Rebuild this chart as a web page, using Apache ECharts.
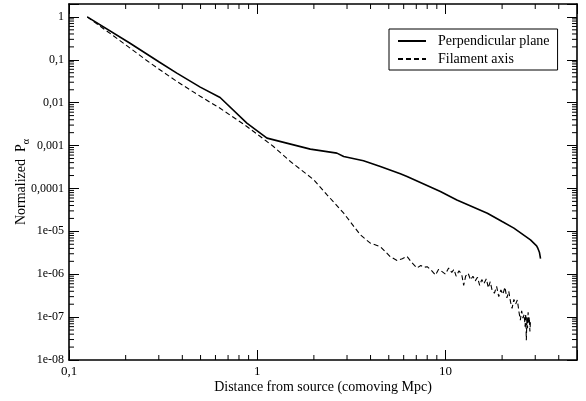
<!DOCTYPE html>
<html>
<head>
<meta charset="utf-8">
<script src="https://cdn.jsdelivr.net/npm/echarts@6/dist/echarts.min.js"></script>
<style>
  html, body { margin: 0; padding: 0; background: #fff; }
  #chart { width: 586px; height: 401px; }
</style>
</head>
<body>
<div id="chart"></div>
<script>
// Axis ranges (log scales)
const X_MIN = 0.1, X_MAX = 50;
const Y_MIN = 1e-8, Y_MAX = 2;

// Labels
const xAxisTitle = 'Distance from source (comoving Mpc)';
const yAxisTitle = 'Normalized  P{sub|α}';
const seriesNames = ['Perpendicular plane', 'Filament axis'];

// Minor tick multipliers within each decade
const minorMultipliers = [2, 3, 4, 5, 6, 7, 8, 9];
const xDecades = [0.1, 1, 10];
const yDecades = [1e-8, 1e-7, 1e-6, 1e-5, 1e-4, 1e-3, 1e-2, 1e-1];

// Perpendicular plane
const perpX = [0.125, 0.21, 0.30, 0.374, 0.498, 0.635, 0.881, 1.0, 1.127, 1.914, 2.65, 2.88,
  3.67, 4.51, 5.76, 6.25, 9.4, 11.5, 16.7, 20, 23.1, 28.3, 30.5, 31.0, 31.3, 31.6, 31.8, 32.0];
const perpY = [1, 0.246, 0.090, 0.049, 0.0231, 0.0132, 0.00334, 0.00221, 0.00149, 8.26e-4, 6.67e-4, 5.55e-4,
  4.41e-4, 3.24e-4, 2.19e-4, 1.9e-4, 8.5e-5, 5.4e-5, 2.65e-5, 1.69e-5, 1.19e-5, 6.3e-6, 4.6e-6, 4.0e-6, 3.7e-6, 3.2e-6, 2.7e-6, 2.3e-6];

// Filament axis
const filX = [0.125, 0.172, 0.27, 0.374, 0.498, 0.635, 0.881, 1.127, 1.22, 1.50, 2.0, 2.35, 2.88,
  3.53, 3.99, 4.51, 5.09, 5.53, 5.9, 6.25, 6.6, 7.06, 7.4, 7.7, 8.0, 8.4, 8.85, 9.2, 9.6, 10.0,
  10.4, 10.8, 11.1, 11.4, 11.8, 12.2, 12.5, 12.8, 13.2, 13.6, 14.0, 14.4, 14.8, 15.2, 15.6, 16.0,
  16.5, 16.9, 17.3, 17.7, 18.2, 18.7, 19.2, 19.7, 20.2, 20.7, 21.2, 21.7, 22.2, 22.6, 23.1, 23.6,
  24.1, 24.6, 25.0, 25.4, 25.8, 26.2, 26.5, 26.7, 26.9, 27.1, 27.3, 27.5, 27.7, 27.9, 28.1, 28.3];
const filY = [1, 0.364, 0.084, 0.0313, 0.0141, 0.0074, 0.00279, 0.00124, 9.5e-4, 4.25e-4, 1.59e-4, 7.1e-5, 2.65e-5,
  8.3e-6, 5.3e-6, 4.4e-6, 2.57e-6, 2.1e-6, 2.3e-6, 2.6e-6, 1.9e-6, 1.4e-6, 1.6e-6, 1.45e-6, 1.5e-6, 1.25e-6, 9.6e-7, 1.3e-6, 1.15e-6, 1.0e-6,
  1.4e-6, 1.1e-6, 1.3e-6, 9e-7, 1.2e-6, 1.0e-6, 5.5e-7, 9e-7, 1.05e-6, 7.4e-7, 9e-7, 7e-7, 8.5e-7, 5.5e-7, 7.5e-7, 6e-7,
  7.8e-7, 4.8e-7, 6.7e-7, 4.2e-7, 3.6e-7, 5.2e-7, 3.0e-7, 4.3e-7, 3.4e-7, 5.0e-7, 2.8e-7, 4.0e-7, 2.2e-7, 1.6e-7, 2.6e-7, 2.0e-7,
  2.5e-7, 1.3e-7, 8.5e-8, 1.4e-7, 9.5e-8, 1.15e-7, 6e-8, 1.2e-7, 2.9e-8, 1.0e-7, 5.5e-8, 1.3e-7, 7e-8, 1.0e-7, 4.6e-8, 8e-8];

const zip = (xs, ys) => xs.map((x, i) => [x, ys[i]]);

const xMinorTicks = [];
xDecades.forEach(d => minorMultipliers.forEach(m => { if (d * m < X_MAX) xMinorTicks.push([d * m, Y_MIN]); }));
const yMinorTicks = [];
yDecades.forEach(d => minorMultipliers.forEach(m => { if (d * m < Y_MAX) yMinorTicks.push([X_MIN, d * m]); }));

// Decade labels: "0,1" style for >= 1e-4, "1e-05" style below
function decadeLabel(v) {
  const e = Math.log10(v);
  const k = Math.round(e);
  if (Math.abs(e - k) > 1e-6) return '';
  if (k >= 0) return String(Math.pow(10, k));
  if (k >= -4) return '0,' + '0'.repeat(-k - 1) + '1';
  return '1e-' + String(-k).padStart(2, '0');
}

const FONT = 'Liberation Serif';
const BLACK = '#000';
const MAJOR_LEN = 10, MINOR_LEN = 5;

function axisBase(extra) {
  return Object.assign({
    type: 'log',
    logBase: 10,
    splitNumber: 5,
    axisLine: { show: true, lineStyle: { color: BLACK, width: 1.6 } },
    axisTick: { show: true, inside: true, length: MAJOR_LEN, lineStyle: { color: BLACK, width: 1 } },
    splitLine: { show: false },
    minorTick: { show: false },
    axisLabel: { show: false }
  }, extra);
}

const chart = echarts.init(document.getElementById('chart'), null, { renderer: 'canvas' });

chart.setOption({
  animation: false,
  backgroundColor: '#fff',
  textStyle: { fontFamily: FONT, color: BLACK },
  grid: { left: 69, right: 9, top: 4, bottom: 41, containLabel: false, outerBoundsMode: 'none' },
  legend: {
    data: seriesNames,
    orient: 'vertical',
    left: 389,
    top: 29,
    padding: [5, 8, 4, 8],
    itemGap: 4,
    itemWidth: 28,
    itemHeight: 14,
    borderColor: BLACK,
    borderWidth: 1,
    backgroundColor: '#fff',
    itemStyle: { opacity: 0 },
    textStyle: { fontFamily: FONT, fontSize: 14, color: BLACK, padding: [0, 0, 0, 7] }
  },
  xAxis: [
    axisBase({
      min: X_MIN, max: X_MAX, position: 'bottom',
      axisLabel: { show: true, margin: 5, fontFamily: FONT, fontSize: 13, color: BLACK, formatter: decadeLabel },
      name: xAxisTitle, nameLocation: 'middle', nameGap: 20, nameMoveOverlap: false,
      nameTextStyle: { fontFamily: FONT, fontSize: 14, color: BLACK }
    }),
    axisBase({ min: X_MIN, max: X_MAX, position: 'top' })
  ],
  yAxis: [
    axisBase({
      min: Y_MIN, max: Y_MAX, position: 'left',
      axisLabel: { show: true, margin: 5, fontFamily: FONT, fontSize: 12, color: BLACK, formatter: decadeLabel },
      name: yAxisTitle, nameLocation: 'middle', nameGap: 38, nameMoveOverlap: false,
      nameTextStyle: {
        fontFamily: FONT, fontSize: 14, color: BLACK, lineHeight: 20,
        rich: { sub: { fontFamily: FONT, fontSize: 10, color: BLACK, verticalAlign: 'bottom', lineHeight: 10 } }
      }
    }),
    axisBase({ min: Y_MIN, max: Y_MAX, position: 'right' })
  ],
  series: [
    {
      name: seriesNames[0], type: 'line', data: zip(perpX, perpY),
      xAxisIndex: 0, yAxisIndex: 0,
      symbol: 'none', smooth: false,
      lineStyle: { color: BLACK, width: 1.6, type: 'solid' },
      itemStyle: { color: BLACK }
    },
    {
      name: seriesNames[1], type: 'line', data: zip(filX, filY),
      xAxisIndex: 0, yAxisIndex: 0,
      symbol: 'none', smooth: false,
      lineStyle: { color: BLACK, width: 1.1, type: [5, 3] },
      itemStyle: { color: BLACK }
    },
    {
      // minor ticks on bottom and top edges
      type: 'custom', silent: true, xAxisIndex: 0, yAxisIndex: 0, data: xMinorTicks,
      renderItem: function (params, api) {
        const v = api.value(0);
        const b = api.coord([v, Y_MIN]);
        const t = api.coord([v, Y_MAX]);
        const st = { stroke: BLACK, lineWidth: 1 };
        return { type: 'group', children: [
          { type: 'line', shape: { x1: b[0], y1: b[1], x2: b[0], y2: b[1] - MINOR_LEN }, style: st },
          { type: 'line', shape: { x1: t[0], y1: t[1], x2: t[0], y2: t[1] + MINOR_LEN }, style: st }
        ] };
      }
    },
    {
      // minor ticks on left and right edges
      type: 'custom', silent: true, xAxisIndex: 0, yAxisIndex: 0, data: yMinorTicks,
      renderItem: function (params, api) {
        const v = api.value(1);
        const l = api.coord([X_MIN, v]);
        const r = api.coord([X_MAX, v]);
        const st = { stroke: BLACK, lineWidth: 1 };
        return { type: 'group', children: [
          { type: 'line', shape: { x1: l[0], y1: l[1], x2: l[0] + MINOR_LEN, y2: l[1] }, style: st },
          { type: 'line', shape: { x1: r[0], y1: r[1], x2: r[0] - MINOR_LEN, y2: r[1] }, style: st }
        ] };
      }
    }
  ]
});
</script>
</body>
</html>
